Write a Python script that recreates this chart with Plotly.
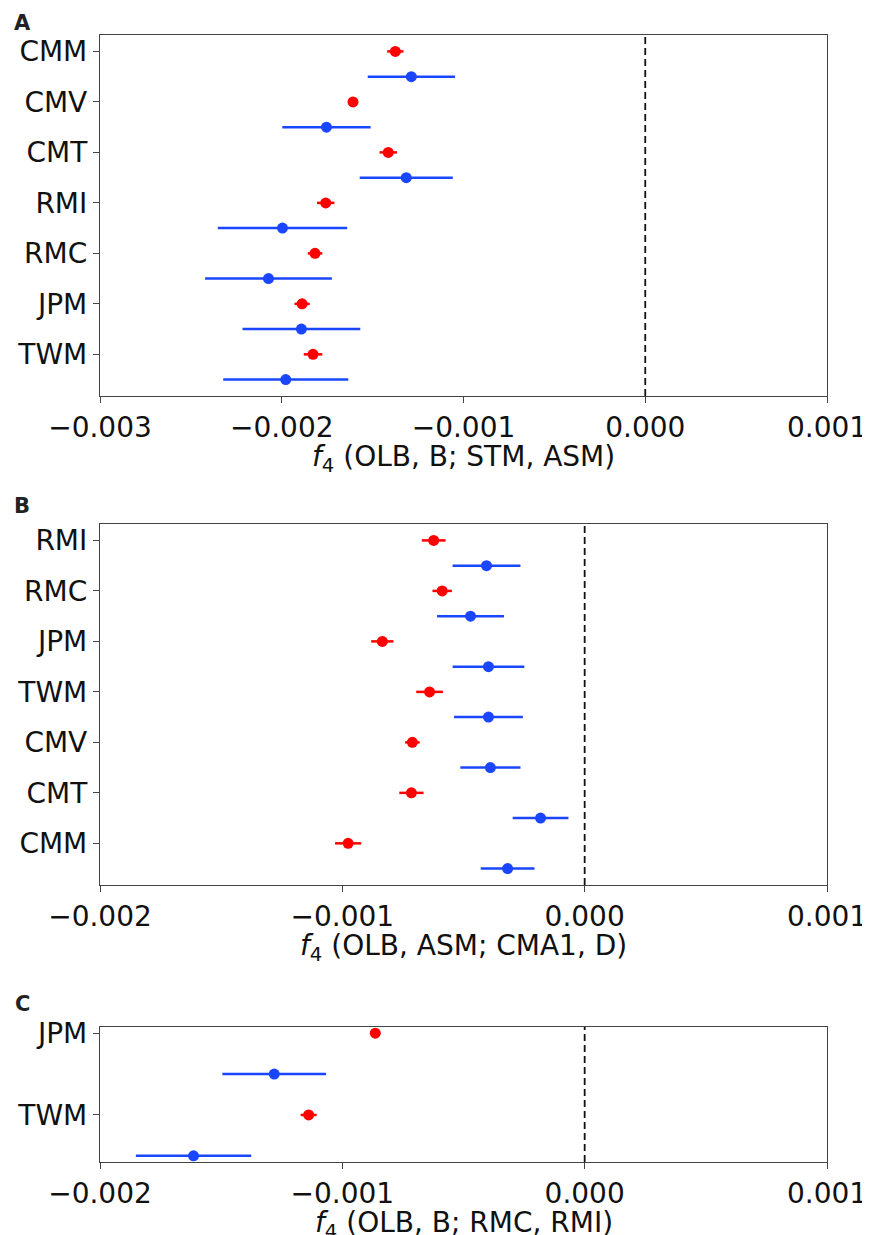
import plotly.graph_objects as go
from plotly.subplots import make_subplots

# the page body has an 8px margin, so the figure sits at (8, 8) in the window
OFF = 8
W, H = 870 - OFF, 1235 - OFF

# panel A
a_labels = ["CMM", "CMV", "CMT", "RMI", "RMC", "JPM", "TWM"]
a_red = [-0.001375, -0.001608, -0.001414, -0.001758, -0.001817, -0.001888, -0.001828]
a_red_err = [0.000045, 0.000022, 0.000048, 0.000048, 0.000040, 0.000042, 0.000051]
a_blue = [-0.001287, -0.001754, -0.001315, -0.001996, -0.002073, -0.001892, -0.001978]
a_blue_err = [0.000240, 0.000243, 0.000256, 0.000356, 0.000349, 0.000324, 0.000344]

# panel B
b_labels = ["RMI", "RMC", "JPM", "TWM", "CMV", "CMT", "CMM"]
b_red = [-0.000623, -0.000588, -0.000835, -0.000640, -0.000711, -0.000715, -0.000976]
b_red_err = [0.000049, 0.000040, 0.000046, 0.000055, 0.000030, 0.000050, 0.000054]
b_blue = [-0.000405, -0.000471, -0.000397, -0.000397, -0.000389, -0.000182, -0.000318]
b_blue_err = [0.000140, 0.000138, 0.000148, 0.000142, 0.000124, 0.000115, 0.000111]

# panel C
c_labels = ["JPM", "TWM"]
c_red = [-0.000864, -0.001139]
c_red_err = [0.000020, 0.000033]
c_blue = [-0.001281, -0.001614]
c_blue_err = [0.000214, 0.000238]

panels = [
    dict(labels=a_labels, red=a_red, red_err=a_red_err, blue=a_blue, blue_err=a_blue_err,
         xrange=[-0.003, 0.001], tickvals=[-0.003, -0.002, -0.001, 0.0, 0.001],
         title="<i>f</i><sub>4</sub> (OLB, B; STM, ASM)", top=35, bottom=396, letter="A", ly=23),
    dict(labels=b_labels, red=b_red, red_err=b_red_err, blue=b_blue, blue_err=b_blue_err,
         xrange=[-0.002, 0.001], tickvals=[-0.002, -0.001, 0.0, 0.001],
         title="<i>f</i><sub>4</sub> (OLB, ASM; CMA1, D)", top=524, bottom=885, letter="B", ly=506),
    dict(labels=c_labels, red=c_red, red_err=c_red_err, blue=c_blue, blue_err=c_blue_err,
         xrange=[-0.002, 0.001], tickvals=[-0.002, -0.001, 0.0, 0.001],
         title="<i>f</i><sub>4</sub> (OLB, B; RMC, RMI)", top=1027, bottom=1162, letter="C", ly=1004),
]

RED = "#ff0000"
BLUE = "#1a46ff"
FONT = "DejaVu Sans"
FS = 28
LEFT, RIGHT = 100 - OFF, 827 - OFF
x0, x1 = LEFT / W, RIGHT / W


def tick_text(v):
    if v < 0:
        return "\u2212%.3f" % abs(v)
    return "%.3f" % v


def py(v):
    # window pixel row -> paper fraction
    return 1 - (v - OFF) / H


fig = make_subplots(rows=3, cols=1)

for k, p in enumerate(panels, start=1):
    n = len(p["labels"])
    ypos = list(range(n))
    fig.add_trace(go.Scatter(
        x=p["red"], y=ypos, mode="markers",
        marker=dict(color=RED, size=11),
        error_x=dict(type="data", array=p["red_err"], color=RED, thickness=2.5, width=0),
        showlegend=False), row=k, col=1)
    fig.add_trace(go.Scatter(
        x=p["blue"], y=[v + 0.5 for v in ypos], mode="markers",
        marker=dict(color=BLUE, size=11),
        error_x=dict(type="data", array=p["blue_err"], color=BLUE, thickness=2.5, width=0),
        showlegend=False), row=k, col=1)

    # matplotlib-style 5% margins around the data
    span = n - 0.5
    pad = 0.05 * span
    ax = "" if k == 1 else str(k)
    fig.update_layout({
        "xaxis" + ax: dict(
            domain=[x0, x1], range=p["xrange"], tickvals=p["tickvals"],
            ticktext=[tick_text(v) for v in p["tickvals"]],
            showgrid=False, zeroline=False, showline=True, mirror=True, automargin=False,
            linecolor="#444444", linewidth=1.3, ticks="outside", ticklen=6,
            tickcolor="#444444", tickfont=dict(size=FS, color="#111111", family=FONT),
        ),
        "yaxis" + ax: dict(
            domain=[py(p["bottom"]), py(p["top"])],
            range=[n - 0.5 + pad, -pad], tickvals=ypos, ticktext=p["labels"],
            showgrid=False, zeroline=False, showline=True, mirror=True, automargin=False,
            linecolor="#444444", linewidth=1.3, ticks="outside", ticklen=6,
            tickcolor="#444444", tickfont=dict(size=FS, color="#111111", family=FONT),
        ),
    })

    fig.add_shape(type="line", xref="x" + ax, yref="y" + ax + " domain",
                  x0=0, x1=0, y0=0, y1=1,
                  line=dict(color="#111111", width=1.8, dash="7px,4px"))

    # axis title
    fig.add_annotation(text=p["title"], xref="paper", yref="paper",
                       x=(LEFT + RIGHT) / 2 / W, y=py(p["bottom"] + 62),
                       xanchor="center", yanchor="middle", showarrow=False,
                       font=dict(size=FS, color="#111111", family=FONT))

    # panel letter
    fig.add_annotation(text="<b>%s</b>" % p["letter"], xref="paper", yref="paper",
                       x=(22 - OFF) / W, y=py(p["ly"]), xanchor="center", yanchor="middle",
                       showarrow=False, font=dict(size=21, color="#222222", family=FONT))

fig.update_layout(
    width=W, height=H,
    margin=dict(l=0, r=0, t=0, b=0),
    plot_bgcolor="white", paper_bgcolor="white",
    font=dict(family=FONT),
)

fig.write_html("out.html")
